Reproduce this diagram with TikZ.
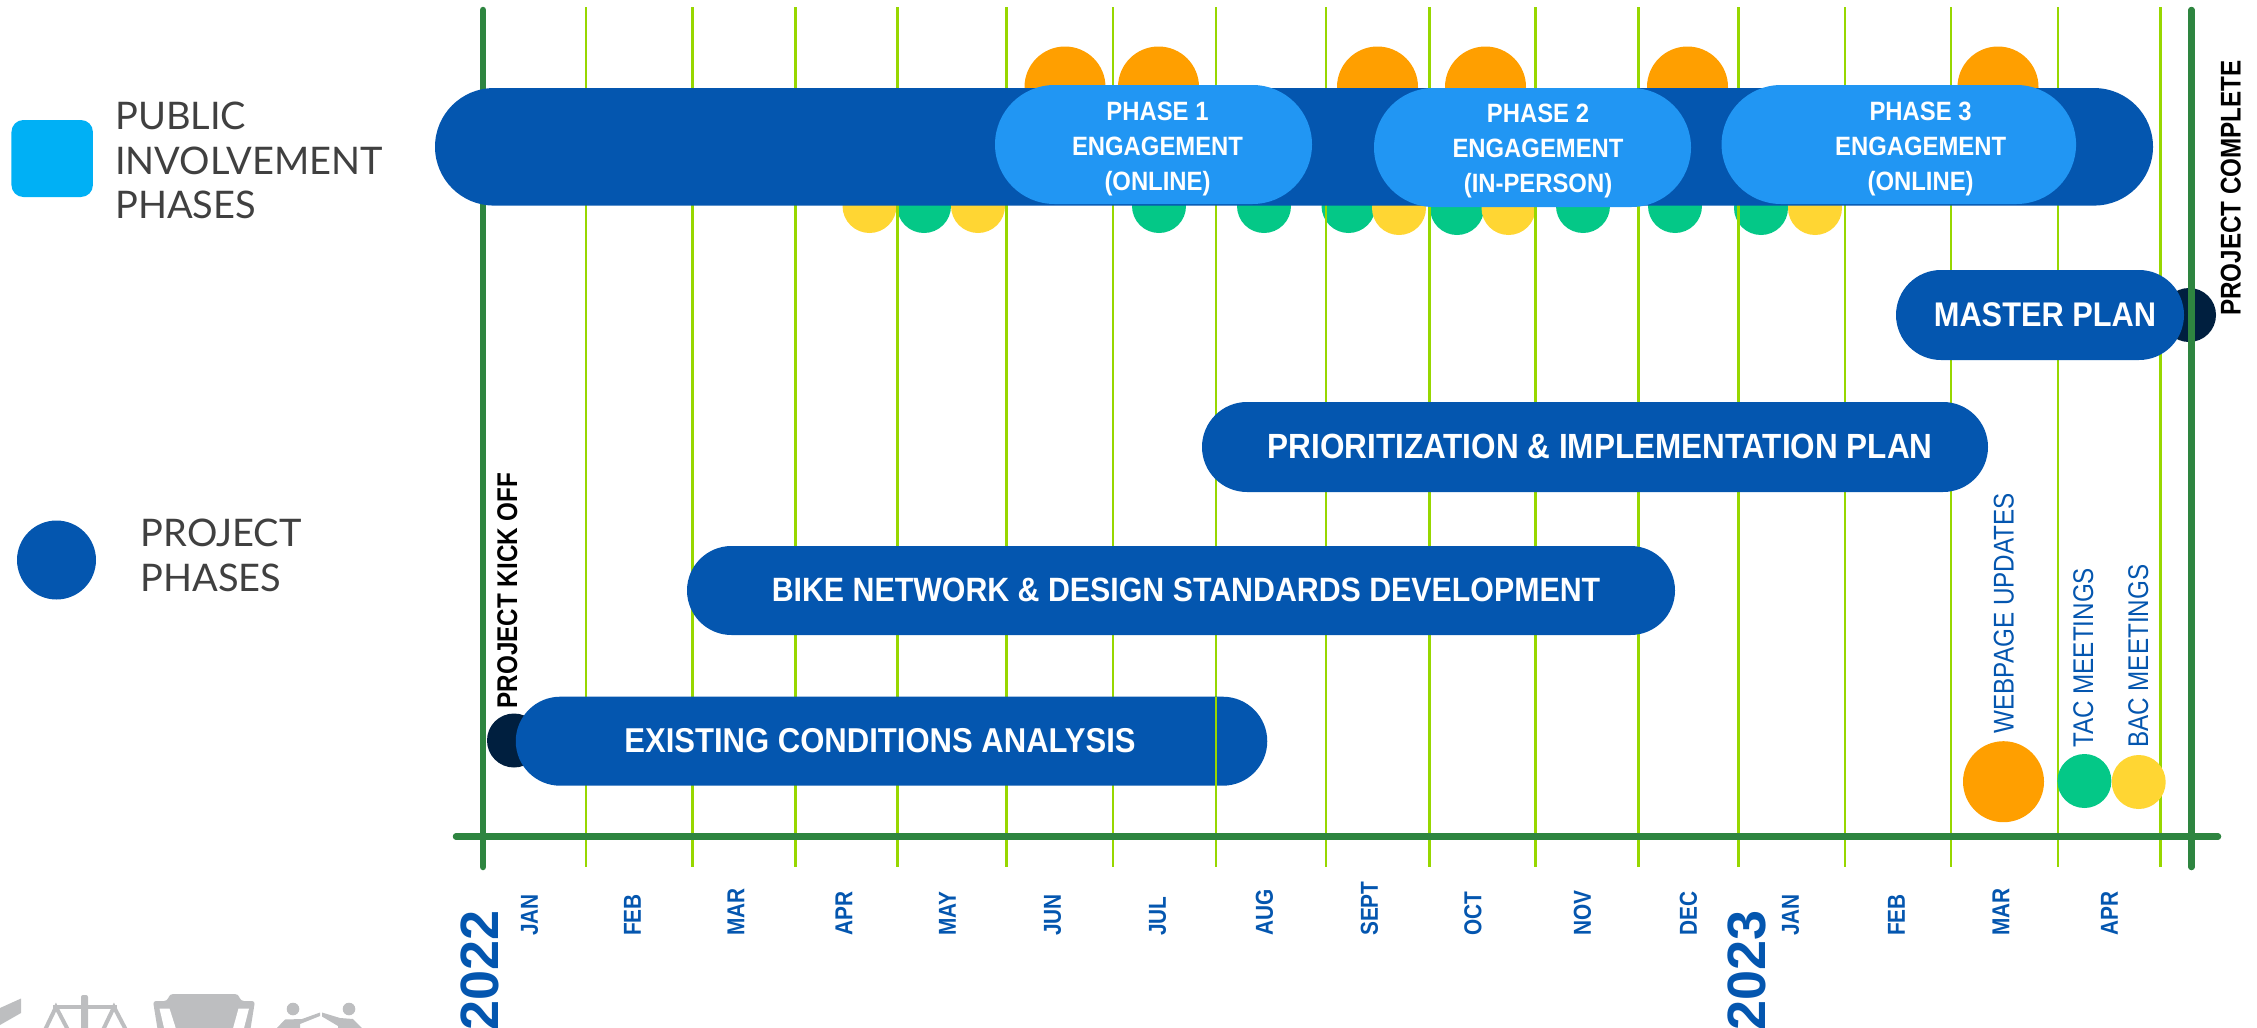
\documentclass[tikz,border=0pt]{standalone}
\usepackage{fontspec}
\setmainfont{Liberation Sans}
\newfontfamily\pillfont[FakeStretch=0.9]{Liberation Sans}
\newfontfamily\labelfont[FakeStretch=0.85]{Liberation Sans}
\newfontfamily\legendfont{Lato}
\usepackage{xcolor}
\usetikzlibrary{shapes.misc}
\definecolor{barblue}{HTML}{0456AF}
\definecolor{phaseblue}{HTML}{2196F3}
\definecolor{squareblue}{HTML}{00B0F5}
\definecolor{webdotcol}{HTML}{FF9F00}
\definecolor{tacdotcol}{HTML}{04C887}
\definecolor{bacdotcol}{HTML}{FFD633}
\definecolor{navy}{HTML}{001F3F}
\definecolor{axisgreen}{HTML}{2E8540}
\definecolor{monthgreen}{HTML}{97D700}
\definecolor{legendgray}{HTML}{404040}
\definecolor{icongray}{HTML}{BDBEC0}
\tikzset{
  gridline/.style={monthgreen,line width=2.5pt},
  mainline/.style={axisgreen,line width=6.5pt,line cap=round},
  pill/.style={rounded rectangle,fill=barblue,inner sep=0pt},
  phasepill/.style={rounded rectangle,fill=phaseblue,inner sep=0pt},
  pilltext/.style={white,inner sep=0pt,text height=24pt,text depth=0pt,font=\pillfont\bfseries\fontsize{#1}{36}\selectfont},
  phasetext/.style={white,inner sep=0pt,align=center,font=\pillfont\bfseries\fontsize{26.5}{35}\selectfont},
  webdot/.style={circle,fill=webdotcol,inner sep=0pt,minimum size=81pt},
  tacdot/.style={circle,fill=tacdotcol,inner sep=0pt,minimum size=54pt},
  bacdot/.style={circle,fill=bacdotcol,inner sep=0pt,minimum size=54pt},
  navydot/.style={circle,fill=navy,inner sep=0pt,minimum size=54pt},
  milestone/.style={rotate=90,inner sep=0pt,text height=20pt,text depth=0pt,font=\labelfont\bfseries\fontsize{28.5}{30}\selectfont},
  sidelabel/.style={rotate=90,barblue,inner sep=0pt,text height=20pt,text depth=0pt,anchor=west,font=\labelfont\fontsize{28.5}{30}\selectfont},
  month/.style={rotate=90,barblue,anchor=west,inner sep=0pt,text height=17.5pt,text depth=0pt,font=\labelfont\bfseries\fontsize{24.5}{26}\selectfont},
  yearlabel/.style={rotate=90,barblue,anchor=east,inner sep=0pt,text height=38pt,text depth=0pt,font=\bfseries\fontsize{54}{56}\selectfont},
  legendtext/.style={legendgray,anchor=north west,inner sep=0pt,align=left,font=\legendfont\fontsize{38}{44.8}\selectfont},
}
\begin{document}
\begin{tikzpicture}[x=1pt,y=-1pt]
  \useasboundingbox (0,0) rectangle (2257,1028);

  % Grey icons cut by the lower edge
  \fill[icongray] (0,1008) -- (21,998.5) -- (21,1013) -- (0,1025) -- cycle;
  \fill[icongray,rounded corners=2pt] (81,1032) -- (81,995) -- (88,995) -- (88,1032) -- cycle;
  \draw[icongray,line width=4pt] (53,1007) -- (117,1007);
  \draw[icongray,line width=4pt] (45,1030) -- (56,1007) -- (68,1030);
  \draw[icongray,line width=4pt] (103,1030) -- (114,1007) -- (126,1030);
  \fill[icongray,rounded corners=3pt] (153,1001) -- (167,1001) -- (170,994) -- (238,994) -- (241,1001) -- (255,1001) -- (250,1032) -- (158,1032) -- cycle;
  \fill[white] (159.5,1008.5) -- (169.5,1008.5) -- (177,1032) -- (165,1032) -- cycle;
  \fill[white] (238.5,1008.5) -- (249,1008.5) -- (243,1032) -- (232,1032) -- cycle;
  \fill[icongray] (293,1009) circle (6.3);
  \fill[icongray] (349,1009) circle (6.3);
  \fill[icongray] (275,1030) -- (285,1019.5) -- (302,1019) -- (320,1012.5) -- (320,1016) -- (300,1024) -- (300,1030) -- cycle;
  \fill[icongray] (322,1012.5) -- (340,1018) -- (353,1019) -- (364,1030) -- (338,1030) -- (338,1026) -- (322,1016.5) -- cycle;

  % Meeting and update dots behind the top bar
  \foreach \x [count=\i] in {1065,1158.5,1377.5,1485.5,1687.5,1998} {
    \node[webdot] (web\i) at (\x,87) {};
  }
  \foreach \x/\y [count=\i] in {924/206,1159/206,1264/206,1348.5/206,1457/208,1583/206,1675/206,1761/208} {
    \node[tacdot] (tac\i) at (\x,\y) {};
  }
  \foreach \x/\y [count=\i] in {869.5/206,978/206,1399/208,1508.5/208,1815/208} {
    \node[bacdot] (bac\i) at (\x,\y) {};
  }

  % Start and end markers
  \node[navydot] (kickoff) at (514,740.5) {};
  \node[navydot] (complete) at (2189,315) {};

  % Month lines
  \foreach \x in {586,692.7,795.7,897.5,1006.5,1113,1216,1326,1429.5,1535.6,1638.5,1738.7,1845,1951,2058,2160.5} {
    \draw[gridline] (\x,7) -- (\x,867);
  }
  \draw[mainline] (483,10) -- (483,867);
  \draw[mainline] (2191.5,10) -- (2191.5,867);
  \draw[mainline] (456,836.5) -- (2218,836.5);

  % Project phases
  \node[pill,minimum width=1718pt,minimum height=117.5pt] (involve) at (1294,146.8) {};
  \node[pill,minimum width=751.5pt,minimum height=89pt] (existing) at (891.5,741.2) {};
  \node[pilltext=34.5] (existingtext) at (880,740) {EXISTING CONDITIONS ANALYSIS};
  \node[pill,minimum width=988pt,minimum height=89pt] (bike) at (1181,590.5) {};
  \node[pilltext=33.7] (biketext) at (1186,589) {BIKE NETWORK \& DESIGN STANDARDS DEVELOPMENT};
  \node[pill,minimum width=786pt,minimum height=90pt] (prior) at (1595,447) {};
  \node[pilltext=35] (priortext) at (1600,446) {PRIORITIZATION \& IMPLEMENTATION PLAN};
  \node[pill,minimum width=288pt,minimum height=90pt] (master) at (2040,315) {};
  \node[pilltext=34.2] (mastertext) at (2045,314) {MASTER PLAN};
  \draw[gridline] (1216,697) -- (1216,786);

  % Engagement phases
  \node[phasepill,minimum width=317pt,minimum height=119pt] (phaseone) at (1153.5,144.5) {};
  \node[phasetext] (phaseonetext) at (1157.5,149) {PHASE 1\\ENGAGEMENT\\(ONLINE)};
  \node[phasepill,minimum width=317pt,minimum height=119pt] (phasetwo) at (1532.5,147.5) {};
  \node[phasepill,minimum width=354.5pt,minimum height=119pt] (phasethree) at (1898.8,144.5) {};
  \node[phasetext] (phasetwotext) at (1538,151) {PHASE 2\\ENGAGEMENT\\(IN-PERSON)};
  \node[phasetext] (phasethreetext) at (1920.6,149) {PHASE 3\\ENGAGEMENT\\(ONLINE)};

  % Milestones
  \node[milestone] (kickofftext) at (507,590.5) {PROJECT KICK OFF};
  \node[milestone] (completetext) at (2230.5,188) {PROJECT COMPLETE};

  % Key of dots
  \node[webdot] (webkey) at (2003.5,781.7) {};
  \node[tacdot] (tackey) at (2084.4,781) {};
  \node[bacdot] (backey) at (2138.7,782) {};
  \node[sidelabel] (webkeytext) at (2003.5,733.5) {WEBPAGE UPDATES};
  \node[sidelabel] (tackeytext) at (2083,748) {TAC MEETINGS};
  \node[sidelabel] (backeytext) at (2138,748) {BAC MEETINGS};

  % Months along the bottom
  \foreach \x/\m [count=\i] in {529/JAN,632/FEB,735.5/MAR,843.5/APR,947/MAY,1052/JUN,1157/JUL,1264/AUG,1369/SEPT,1472.5/OCT,1582/NOV,1688/DEC,1790/JAN,1896/FEB,2000.5/MAR,2109/APR} {
    \node[month] (month\i) at (\x,936) {\m};
  }
  \node[yearlabel] (yearone) at (479,910) {2022};
  \node[yearlabel] (yeartwo) at (1746,910) {2023};

  % Legend
  \node[fill=squareblue,rounded corners=12pt,minimum width=81.5pt,minimum height=77pt,inner sep=0pt] (keysquare) at (52.2,158.5) {};
  \node[legendtext] (keysquaretext) at (115,101.5) {PUBLIC\\INVOLVEMENT\\PHASES};
  \node[circle,fill=barblue,minimum size=79pt,inner sep=0pt] (keycircle) at (56.5,560) {};
  \node[legendtext] (keycircletext) at (140.5,518.5) {PROJECT\\PHASES};
\end{tikzpicture}
\end{document}
